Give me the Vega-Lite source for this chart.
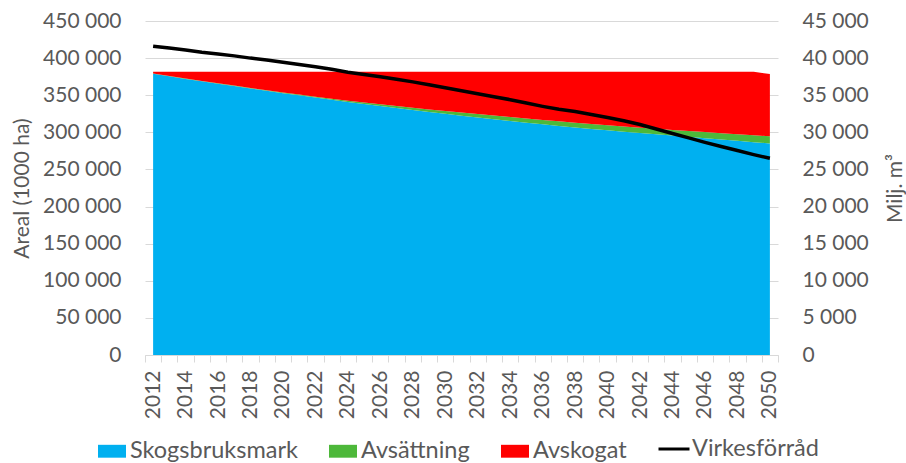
{
  "$schema": "https://vega.github.io/schema/vega-lite/v6.json",
  "width": 633,
  "height": 334,
  "autosize": "none",
  "padding": {"left": 145, "top": 21, "right": 128, "bottom": 108},
  "background": "white",
  "config": {
    "view": {"stroke": null},
    "font": "Lato",
    "axis": {"labelFont": "Lato", "titleFont": "Lato", "labelColor": "#595959", "titleColor": "#595959", "titleFontWeight": "normal"},
    "legend": {"labelFont": "Lato", "labelColor": "#595959"}
  },
  "data": {
    "values": [
      {"year": 2012, "Skogsbruksmark": 379000, "Avsättning": 200, "Avskogat": 2300, "Virkesförråd": 41600},
      {"year": 2013, "Skogsbruksmark": 375500, "Avsättning": 300, "Avskogat": 5700, "Virkesförråd": 41350},
      {"year": 2014, "Skogsbruksmark": 372000, "Avsättning": 400, "Avskogat": 9100, "Virkesförråd": 41100},
      {"year": 2015, "Skogsbruksmark": 368800, "Avsättning": 500, "Avskogat": 12200, "Virkesförråd": 40800},
      {"year": 2016, "Skogsbruksmark": 365500, "Avsättning": 600, "Avskogat": 15400, "Virkesförråd": 40550},
      {"year": 2017, "Skogsbruksmark": 362300, "Avsättning": 700, "Avskogat": 18500, "Virkesförråd": 40300},
      {"year": 2018, "Skogsbruksmark": 359000, "Avsättning": 800, "Avskogat": 21700, "Virkesförråd": 40000},
      {"year": 2019, "Skogsbruksmark": 355900, "Avsättning": 900, "Avskogat": 24700, "Virkesförråd": 39750},
      {"year": 2020, "Skogsbruksmark": 352800, "Avsättning": 1000, "Avskogat": 27700, "Virkesförråd": 39450},
      {"year": 2021, "Skogsbruksmark": 349800, "Avsättning": 1150, "Avskogat": 30550, "Virkesförråd": 39150},
      {"year": 2022, "Skogsbruksmark": 346800, "Avsättning": 1300, "Avskogat": 33400, "Virkesförråd": 38850},
      {"year": 2023, "Skogsbruksmark": 343800, "Avsättning": 1500, "Avskogat": 36200, "Virkesförråd": 38500},
      {"year": 2024, "Skogsbruksmark": 340900, "Avsättning": 1700, "Avskogat": 38900, "Virkesförråd": 38100},
      {"year": 2025, "Skogsbruksmark": 338100, "Avsättning": 2000, "Avskogat": 41400, "Virkesförråd": 37800},
      {"year": 2026, "Skogsbruksmark": 335400, "Avsättning": 2300, "Avskogat": 43800, "Virkesförråd": 37500},
      {"year": 2027, "Skogsbruksmark": 332700, "Avsättning": 2650, "Avskogat": 46150, "Virkesförråd": 37150},
      {"year": 2028, "Skogsbruksmark": 330100, "Avsättning": 3000, "Avskogat": 48400, "Virkesförråd": 36800},
      {"year": 2029, "Skogsbruksmark": 327500, "Avsättning": 3400, "Avskogat": 50600, "Virkesförråd": 36400},
      {"year": 2030, "Skogsbruksmark": 325000, "Avsättning": 3800, "Avskogat": 52700, "Virkesförråd": 36000},
      {"year": 2031, "Skogsbruksmark": 322500, "Avsättning": 4200, "Avskogat": 54800, "Virkesförråd": 35600},
      {"year": 2032, "Skogsbruksmark": 320000, "Avsättning": 4600, "Avskogat": 56900, "Virkesförråd": 35200},
      {"year": 2033, "Skogsbruksmark": 317600, "Avsättning": 4950, "Avskogat": 58950, "Virkesförråd": 34800},
      {"year": 2034, "Skogsbruksmark": 315300, "Avsättning": 5300, "Avskogat": 60900, "Virkesförråd": 34400},
      {"year": 2035, "Skogsbruksmark": 313000, "Avsättning": 5600, "Avskogat": 62900, "Virkesförråd": 33950},
      {"year": 2036, "Skogsbruksmark": 310800, "Avsättning": 5900, "Avskogat": 64800, "Virkesförråd": 33500},
      {"year": 2037, "Skogsbruksmark": 308700, "Avsättning": 6150, "Avskogat": 66650, "Virkesförråd": 33100},
      {"year": 2038, "Skogsbruksmark": 306600, "Avsättning": 6400, "Avskogat": 68500, "Virkesförråd": 32800},
      {"year": 2039, "Skogsbruksmark": 304600, "Avsättning": 6600, "Avskogat": 70300, "Virkesförråd": 32400},
      {"year": 2040, "Skogsbruksmark": 302700, "Avsättning": 6800, "Avskogat": 72000, "Virkesförråd": 32000},
      {"year": 2041, "Skogsbruksmark": 300800, "Avsättning": 7000, "Avskogat": 73700, "Virkesförråd": 31550},
      {"year": 2042, "Skogsbruksmark": 299000, "Avsättning": 7200, "Avskogat": 75300, "Virkesförråd": 31050},
      {"year": 2043, "Skogsbruksmark": 297300, "Avsättning": 7450, "Avskogat": 76750, "Virkesförråd": 30450},
      {"year": 2044, "Skogsbruksmark": 295600, "Avsättning": 7700, "Avskogat": 78200, "Virkesförråd": 29850},
      {"year": 2045, "Skogsbruksmark": 293900, "Avsättning": 8000, "Avskogat": 79600, "Virkesförråd": 29250},
      {"year": 2046, "Skogsbruksmark": 292100, "Avsättning": 8300, "Avskogat": 81100, "Virkesförråd": 28650},
      {"year": 2047, "Skogsbruksmark": 290300, "Avsättning": 8600, "Avskogat": 82600, "Virkesförråd": 28100},
      {"year": 2048, "Skogsbruksmark": 288500, "Avsättning": 8900, "Avskogat": 84100, "Virkesförråd": 27550},
      {"year": 2049, "Skogsbruksmark": 286700, "Avsättning": 9300, "Avskogat": 85500, "Virkesförråd": 27000},
      {"year": 2050, "Skogsbruksmark": 285000, "Avsättning": 9700, "Avskogat": 83800, "Virkesförråd": 26500}
    ]
  },
  "encoding": {
    "x": {
      "field": "year", "type": "quantitative",
      "scale": {"domain": [2011.5, 2050.5], "nice": false, "zero": false},
      "axis": {
        "title": null,
        "values": [2011.5, 2012.5, 2013.5, 2014.5, 2015.5, 2016.5, 2017.5, 2018.5, 2019.5, 2020.5, 2021.5, 2022.5, 2023.5, 2024.5, 2025.5, 2026.5, 2027.5, 2028.5, 2029.5, 2030.5, 2031.5, 2032.5, 2033.5, 2034.5, 2035.5, 2036.5, 2037.5, 2038.5, 2039.5, 2040.5, 2041.5, 2042.5, 2043.5, 2044.5, 2045.5, 2046.5, 2047.5, 2048.5, 2049.5, 2050.5],
        "labelExpr": "(datum.value + 0.5) % 2 == 0 ? '' + (datum.value + 0.5) : ''",
        "labelOffset": 8.1,
        "labelAngle": -90,
        "labelAlign": "right",
        "labelBaseline": "middle",
        "labelFontSize": 21,
        "labelPadding": 8,
        "labelFlush": false,
        "labelOverlap": false,
        "labelSeparation": 0,
        "labelBound": false,
        "grid": false,
        "domainColor": "#D9D9D9",
        "domainWidth": 1,
        "tickColor": "#D9D9D9",
        "tickSize": 7
      }
    }
  },
  "layer": [
    {
      "transform": [{"fold": ["Skogsbruksmark", "Avsättning", "Avskogat"], "as": ["series", "value"]}],
      "mark": {"type": "area", "interpolate": "linear"},
      "encoding": {
        "y": {
          "field": "value", "type": "quantitative", "stack": "zero",
          "scale": {"domain": [0, 450000], "nice": false},
          "axis": {
            "title": "Areal (1000 ha)",
            "titleFontSize": 21,
            "titlePadding": 10,
            "values": [0, 50000, 100000, 150000, 200000, 250000, 300000, 350000, 400000, 450000],
            "labelExpr": "replace(format(datum.value, ','), ',', ' ')",
            "labelFontSize": 21,
            "labelPadding": 24,
            "domain": false,
            "ticks": false,
            "grid": true,
            "gridColor": "#D9D9D9"
          }
        },
        "color": {
          "field": "series", "type": "nominal",
          "scale": {"domain": ["Skogsbruksmark", "Avsättning", "Avskogat"], "range": ["#00B0F0", "#4DB83A", "#FF0000"]},
          "legend": {
            "title": null,
            "orient": "none",
            "legendX": -47,
            "legendY": 416,
            "direction": "horizontal",
            "padding": 0,
            "symbolType": "M-1,-0.46H1V0.46H-1Z",
            "symbolSize": 784,
            "symbolStrokeWidth": 0,
            "labelFontSize": 23.5,
            "labelOffset": 4,
            "columnPadding": 31,
            "labelLimit": 400
          }
        },
        "order": {"field": "series", "type": "nominal", "sort": "descending"}
      }
    },
    {
      "mark": {"type": "line", "color": "black", "strokeWidth": 3.5},
      "encoding": {
        "y": {
          "field": "Virkesförråd", "type": "quantitative",
          "scale": {"domain": [0, 45000], "nice": false},
          "axis": {
            "orient": "right",
            "title": "Milj. m³",
            "titleFontSize": 21,
            "titleAngle": -90,
            "titleBaseline": "top",
            "titlePadding": 16,
            "values": [0, 5000, 10000, 15000, 20000, 25000, 30000, 35000, 40000, 45000],
            "labelExpr": "replace(format(datum.value, ','), ',', ' ')",
            "labelFontSize": 21,
            "labelPadding": 24,
            "domain": false,
            "ticks": false,
            "grid": false
          }
        },
        "stroke": {
          "datum": "Virkesförråd", "type": "nominal",
          "scale": {"domain": ["Virkesförråd"], "range": ["black"]},
          "legend": {
            "title": null,
            "orient": "none",
            "legendX": 512,
            "legendY": 411,
            "padding": 0,
            "symbolType": "stroke",
            "symbolSize": 961,
            "symbolStrokeWidth": 3,
            "labelFontSize": 23.5,
            "labelOffset": 1,
            "labelLimit": 400
          }
        }
      }
    }
  ],
  "resolve": {"scale": {"y": "independent", "color": "independent"}}
}
